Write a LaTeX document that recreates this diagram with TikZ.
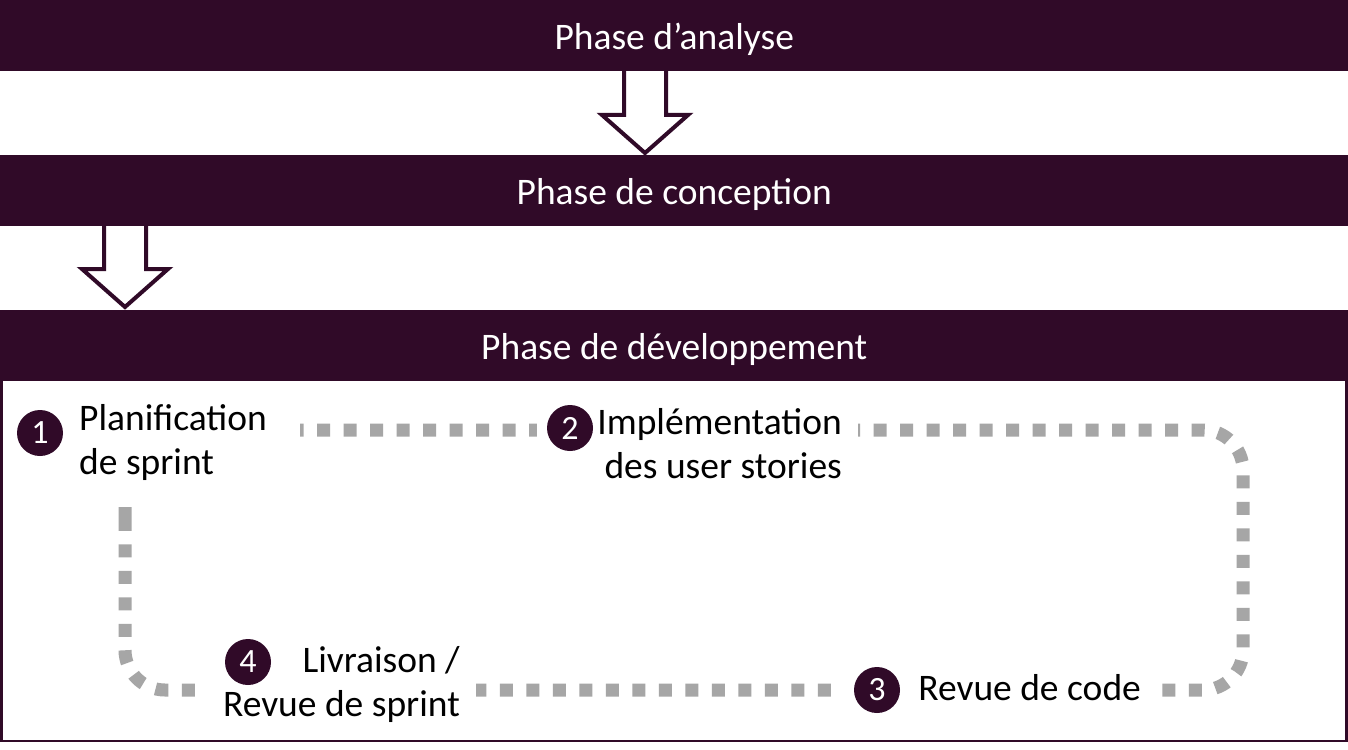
\documentclass[tikz,border=0pt]{standalone}
\usepackage{fontspec}
\setmainfont{Carlito}
\usetikzlibrary{calc}
\definecolor{dpurple}{HTML}{300A28}
\definecolor{dotgray}{HTML}{A6A6A6}
\begin{document}
\begin{tikzpicture}[x=1pt,y=-1pt,
  bar/.style={fill=dpurple,draw=none,minimum width=1348pt,minimum height=71pt,inner sep=0pt,
    text=white,font=\fontsize{37.5}{44}\selectfont,text height=30pt,text depth=3pt},
  blockarrow/.style={draw=dpurple,line width=4pt,fill=white,line join=miter},
  label/.style={fill=white,inner ysep=0pt,inner xsep=16pt,minimum height=104pt,
    font=\fontsize{37.5}{44}\selectfont,text=black},
  num/.style={circle,fill=dpurple,text=white,minimum size=46pt,inner sep=0pt,
    font=\fontsize{34}{34}\selectfont},
  loop/.style={draw=dotgray,line width=13pt,dash pattern=on 13pt off 13.5pt,rounded corners=40pt}]
\useasboundingbox (0,0) rectangle (1348,749);
\fill[white] (0,0) rectangle (1348,749);
% block arrows (drawn below bars)
\coordinate (ar1) at (645,72);
\coordinate (ar2) at (125,226);
\draw[blockarrow] ($(ar1)+(-21,-5)$) -- ++(0,48) -- ++(-22,0) -- ++(43,38) -- ++(43,-38) -- ++(-22,0) -- ++(0,-48);
\draw[blockarrow] ($(ar2)+(-21,-5)$) -- ++(0,48) -- ++(-22,0) -- ++(43,38) -- ++(43,-38) -- ++(-22,0) -- ++(0,-48);
% bars
\node[bar,anchor=north west] (b1) at (0,0) {Phase d’analyse};
\node[bar,anchor=north west] (b2) at (0,155) {Phase de conception};
\node[bar,anchor=north west] (b3) at (0,310) {Phase de développement};
% dotted loop
\draw[loop] (125,560) -- (125,430) -- (1243,430) -- (1243,690) -- (125,690) -- cycle;
% labels
\node[label,anchor=west,text width=205pt,align=flush left] (l1) at (63,442) {Planification\\de sprint};
\node[label,anchor=east,text width=289pt,align=flush right] (l2) at (858,444) {Implémentation\\des user stories};
\node[label,anchor=east,text width=290pt,align=flush right,minimum height=80pt] (l3) at (1157,688) {Revue de code};
\node[label,anchor=east,text width=244pt,align=flush right] (l4) at (476,684) {Livraison /\\Revue de sprint};
% development box
\draw[dpurple,line width=2.5pt] (1.25,378) rectangle (1346.5,740.75);
% numbers
\node[num] (n1) at (40,433) {1};
\node[num] (n2) at (570,428) {2};
\node[num] (n3) at (877,690) {3};
\node[num] (n4) at (248,662) {4};
\end{tikzpicture}
\end{document}
